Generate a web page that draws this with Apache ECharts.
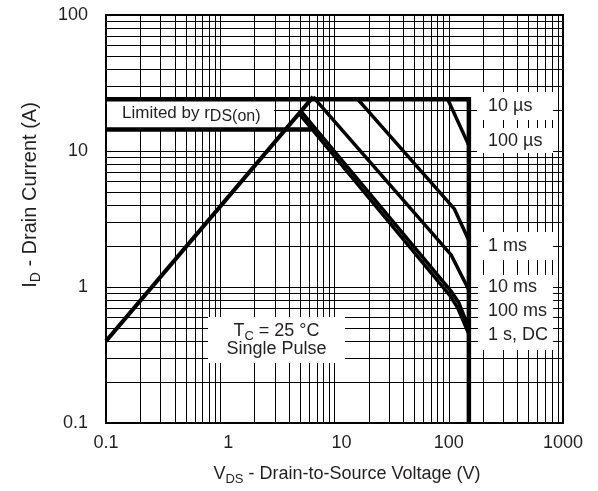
<!DOCTYPE html>
<html><head><meta charset="utf-8">
<script src="https://cdn.jsdelivr.net/npm/echarts@6/dist/echarts.min.js"></script>
<style>html,body{margin:0;padding:0;background:#fff}#c{width:598px;height:491px}</style>
</head><body><div id="c"></div>
<script>
const FONT = "'Liberation Sans', Arial, Helvetica, sans-serif";
const TXT = '#231f20';

// axis ticks / grid
const xDecades = [0.1, 1, 10, 100];
const yDecades = [0.1, 1, 10];
const minorMultipliers = [2, 3, 4, 5, 6, 7, 8, 9];

// curves [VDS (V), ID (A)]
const rdsOnLimit = [[0.1, 0.4], [6.5, 25]];
const line10us = [[0.1, 24], [150, 24], [150, 0.1]];
const rdsBoxLower = [[0.1, 14.4], [6.3, 14.4]];
const line100us = [[98, 24], [150, 11]];
const line1ms = [[16, 24], [112, 3.75], [150, 2.2]];
const line10ms = [[6.5, 25], [105, 1.72], [150, 0.95]];
const line100ms = [[5.1, 19.6], [105, 0.93], [122, 0.77], [150, 0.5]];
const line1sDC = [[4.9, 18.8], [103, 0.86], [120, 0.70], [150, 0.45]];

const xMinor = [], yMinor = [];
xDecades.forEach(d => minorMultipliers.forEach(m => xMinor.push(+(d * m).toPrecision(3))));
yDecades.forEach(d => minorMultipliers.forEach(m => yMinor.push(+(d * m).toPrecision(3))));

function curve(name, data, width) {
  return {
    name, type: 'line', data, symbol: 'none', z: 200, silent: true,
    lineStyle: { color: '#000', width: width, join: 'miter', cap: 'butt' }
  };
}

const fmt = v => String(+(+v).toPrecision(3));
const xFmt = v => {
  const s = fmt(v);
  if (s === '1') return '{a|1}';
  if (s === '10') return '{b|10}';
  return s;
};

const chart = echarts.init(document.getElementById('c'), null, { renderer: 'canvas' });

const textStyleBase = { fontFamily: FONT, fill: TXT, fontSize: 18, lineHeight: 24 };

chart.setOption({
  animation: false,
  backgroundColor: '#fff',
  grid: { left: 106, top: 15, width: 457, height: 408, show: true, borderColor: '#000', borderWidth: 2, backgroundColor: 'transparent' },
  xAxis: {
    type: 'log', logBase: 10, min: 0.1, max: 1000,
    axisLine: { show: false }, axisTick: { show: false },
    splitLine: { show: true, lineStyle: { color: '#000', width: 1 } },
    axisLabel: {
      formatter: xFmt, fontFamily: FONT, fontSize: 18, color: TXT, margin: 11,
      rich: {
        a: { fontFamily: FONT, fontSize: 18, color: TXT, padding: [0, 0, 0, 16] },
        b: { fontFamily: FONT, fontSize: 18, color: TXT, padding: [0, 0, 0, 14] }
      }
    },
    name: 'V{s|DS} - Drain-to-Source Voltage (V)',
    nameLocation: 'middle', nameGap: 39,
    nameTextStyle: {
      fontFamily: FONT, fontSize: 18, color: TXT, lineHeight: 24, padding: [0, 0, 0, 25],
      rich: { s: { fontFamily: FONT, fontSize: 13, color: TXT, lineHeight: 12, verticalAlign: 'bottom' } }
    }
  },
  yAxis: {
    type: 'log', logBase: 10, min: 0.1, max: 100,
    axisLine: { show: false }, axisTick: { show: false },
    splitLine: { show: true, lineStyle: { color: '#000', width: 1 } },
    axisLabel: { formatter: fmt, fontFamily: FONT, fontSize: 18, color: TXT, margin: 18 },
    name: 'I{s|D} - Drain Current (A)',
    nameLocation: 'middle', nameRotate: 90, nameGap: 63,
    nameTextStyle: {
      fontFamily: FONT, fontSize: 20, color: TXT, lineHeight: 26, padding: [0, 0, 0, 48],
      rich: { s: { fontFamily: FONT, fontSize: 14, color: TXT, lineHeight: 12, verticalAlign: 'bottom' } }
    }
  },
  series: [
    {
      name: 'grid', type: 'line', data: [], z: 1, silent: true,
      markLine: {
        silent: true, symbol: ['none', 'none'], animation: false,
        label: { show: false },
        lineStyle: { color: '#000', width: 1, type: 'solid' },
        data: xMinor.map(v => ({ xAxis: v })).concat(yMinor.map(v => ({ yAxis: v })))
      }
    },
    curve('Limited by rDS(on)', rdsOnLimit, 4),
    curve('10 µs', line10us, 4.5),
    curve('rDS box', rdsBoxLower, 4.5),
    curve('100 µs', line100us, 3.5),
    curve('1 ms', line1ms, 3.5),
    curve('10 ms', line10ms, 3.5),
    curve('100 ms', line100ms, 3.5),
    curve('1 s, DC', line1sDC, 3.5)
  ],
  graphic: {
    elements: [
      { type: 'rect', shape: { x: 107, y: 101, width: 167, height: 27 }, style: { fill: '#fff' }, z: 100, silent: true },
      { type: 'text', x: 122, y: 113, z: 150, silent: true,
        style: Object.assign({}, textStyleBase, { fontSize: 17, text: 'Limited by r{s|DS(on)}', align: 'left', verticalAlign: 'middle',
          rich: { s: { fontFamily: FONT, fill: TXT, fontSize: 16, lineHeight: 12, verticalAlign: 'bottom' } } }) },

      { type: 'rect', shape: { x: 477, y: 92, width: 76, height: 28 }, style: { fill: '#fff' }, z: 100, silent: true },
      { type: 'rect', shape: { x: 477, y: 128, width: 76, height: 25 }, style: { fill: '#fff' }, z: 100, silent: true },
      { type: 'rect', shape: { x: 478, y: 232, width: 75, height: 28 }, style: { fill: '#fff' }, z: 100, silent: true },
      { type: 'rect', shape: { x: 478, y: 275, width: 75, height: 75 }, style: { fill: '#fff' }, z: 100, silent: true },
      { type: 'text', x: 488, y: 106, z: 150, silent: true, style: Object.assign({}, textStyleBase, { text: '10 µs', align: 'left', verticalAlign: 'middle' }) },
      { type: 'text', x: 488, y: 141, z: 150, silent: true, style: Object.assign({}, textStyleBase, { text: '100 µs', align: 'left', verticalAlign: 'middle' }) },
      { type: 'text', x: 488, y: 246, z: 150, silent: true, style: Object.assign({}, textStyleBase, { text: '1 ms', align: 'left', verticalAlign: 'middle' }) },
      { type: 'text', x: 488, y: 287.5, z: 150, silent: true, style: Object.assign({}, textStyleBase, { text: '10 ms', align: 'left', verticalAlign: 'middle' }) },
      { type: 'text', x: 488, y: 311.5, z: 150, silent: true, style: Object.assign({}, textStyleBase, { text: '100 ms', align: 'left', verticalAlign: 'middle' }) },
      { type: 'text', x: 488, y: 335.5, z: 150, silent: true, style: Object.assign({}, textStyleBase, { text: '1 s, DC', align: 'left', verticalAlign: 'middle' }) },

      { type: 'rect', shape: { x: 208, y: 317, width: 137, height: 46 }, style: { fill: '#fff' }, z: 100, silent: true },
      { type: 'text', x: 276.5, y: 331, z: 150, silent: true,
        style: Object.assign({}, textStyleBase, { text: 'T{s|C} = 25 °C', align: 'center', verticalAlign: 'middle',
          rich: { s: { fontFamily: FONT, fill: TXT, fontSize: 13, lineHeight: 12, verticalAlign: 'bottom' } } }) },
      { type: 'text', x: 276.5, y: 349, z: 150, silent: true,
        style: Object.assign({}, textStyleBase, { text: 'Single Pulse', align: 'center', verticalAlign: 'middle' }) }
    ]
  }
});
</script>
</body></html>
